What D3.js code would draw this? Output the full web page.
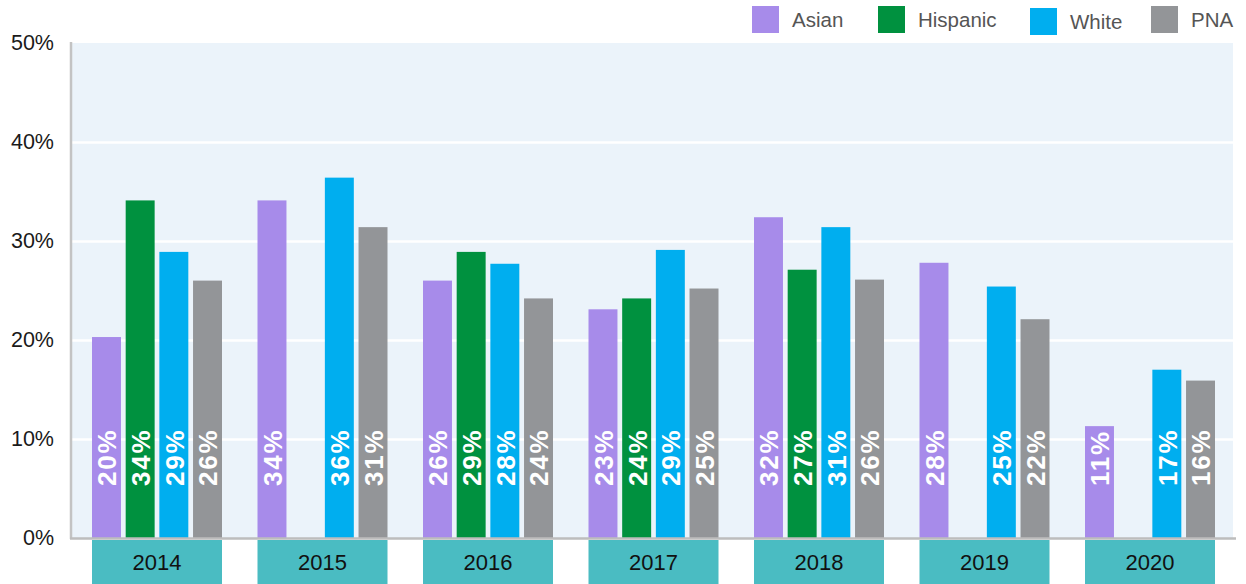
<!DOCTYPE html>
<html>
<head>
<meta charset="utf-8">
<script src="https://cdn.jsdelivr.net/npm/d3@7"></script>
<style>
  html, body { margin: 0; padding: 0; background: #ffffff; }
  svg { display: block; font-family: "Liberation Sans", Arial, Helvetica, sans-serif; }
</style>
</head>
<body>
<svg id="chart" width="1246" height="584"></svg>
<script>
// Years shown along the category axis
const years = ["2014", "2015", "2016", "2017", "2018", "2019", "2020"];

// Series names and their values (percent)
const seriesNames = ["Asian", "Hispanic", "White", "PNA"];
const asian    = [20.3, 34.1, 26.0, 23.1, 32.4, 27.8, 11.3];
const hispanic = [34.1, 0,    28.9, 24.2, 27.1, 0,    0];
const white    = [28.9, 36.4, 27.7, 29.1, 31.4, 25.4, 17.0];
const pna      = [26.0, 31.4, 24.2, 25.2, 26.1, 22.1, 15.9];

// Y axis tick values (percent)
const yTicks = [0, 10, 20, 30, 40, 50];

const colors = {
  Asian: "#a78bea",
  Hispanic: "#00913f",
  White: "#00aeef",
  PNA: "#939598"
};

const seriesValues = { Asian: asian, Hispanic: hispanic, White: white, PNA: pna };

const svg = d3.select("#chart");

// Plot frame
const plotLeft = 71, plotRight = 1233, plotTop = 43, plotBottom = 538;

const y = d3.scaleLinear().domain([0, 50]).range([plotBottom, plotTop]);

const x = d3.scaleBand()
  .domain(years)
  .range([92, 1215])
  .paddingInner(0.2145)
  .paddingOuter(0);

const xInner = d3.scaleBand()
  .domain(seriesNames)
  .range([0, x.bandwidth()])
  .paddingInner(0.14)
  .paddingOuter(0);

// Plot background
svg.append("rect")
  .attr("x", plotLeft)
  .attr("y", plotTop)
  .attr("width", plotRight - plotLeft)
  .attr("height", plotBottom - plotTop)
  .attr("fill", "#ebf3fa");

// Horizontal gridlines
const grid = svg.append("g")
  .attr("transform", `translate(${plotLeft},0)`)
  .call(d3.axisLeft(y).tickValues([10, 20, 30, 40]).tickSize(-(plotRight - plotLeft)).tickFormat(""));
grid.select(".domain").remove();
grid.selectAll(".tick line").attr("stroke", "#ffffff").attr("stroke-width", 2.5);

// Bars
const rows = years.map((yr, i) => ({
  year: yr,
  items: seriesNames.map(s => ({ series: s, value: seriesValues[s][i] }))
}));

const groups = svg.append("g").selectAll("g")
  .data(rows)
  .join("g")
  .attr("transform", d => `translate(${x(d.year)},0)`);

groups.selectAll("rect")
  .data(d => d.items.filter(v => v.value > 0))
  .join("rect")
  .attr("x", d => xInner(d.series))
  .attr("y", d => y(d.value))
  .attr("width", xInner.bandwidth())
  .attr("height", d => y(0) - y(d.value))
  .attr("fill", d => colors[d.series]);

// Value labels, rotated, reading upward from a common baseline
groups.selectAll("text.val")
  .data(d => d.items.filter(v => v.value > 0))
  .join("text")
  .attr("class", "val")
  .attr("transform", d => `translate(${xInner(d.series) + xInner.bandwidth() / 2 + 0.5},486) rotate(-90)`)
  .attr("dy", "0.36em")
  .attr("text-anchor", "start")
  .attr("fill", "#ffffff")
  .attr("font-weight", "bold")
  .attr("font-size", 26)
  .attr("letter-spacing", 1.8)
  .text(d => d3.format(".0f")(d.value) + "%");

// Axis lines
svg.append("line")
  .attr("x1", plotLeft).attr("x2", plotLeft)
  .attr("y1", plotTop - 1).attr("y2", plotBottom + 1)
  .attr("stroke", "#c3c3c3").attr("stroke-width", 2.5);
svg.append("line")
  .attr("x1", plotLeft - 1).attr("x2", 1236)
  .attr("y1", plotBottom + 0.5).attr("y2", plotBottom + 0.5)
  .attr("stroke", "#bdbdbd").attr("stroke-width", 2.5);

// Y axis labels
const yAxis = svg.append("g")
  .attr("transform", `translate(${plotLeft},0)`)
  .call(d3.axisLeft(y).tickValues(yTicks).tickSize(0).tickPadding(17).tickFormat(d => d + "%"));
yAxis.select(".domain").remove();
yAxis.selectAll("text")
  .attr("font-size", 21.5)
  .attr("fill", "#1a1a1a")
  .style("font-family", "'Liberation Sans', Arial, sans-serif");

// Category boxes under each year
svg.append("g").selectAll("rect")
  .data(years)
  .join("rect")
  .attr("x", d => x(d))
  .attr("y", plotBottom + 2)
  .attr("width", x.bandwidth())
  .attr("height", 584 - plotBottom - 2)
  .attr("fill", "#4abcc2");

const xAxis = svg.append("g")
  .attr("transform", `translate(0,${plotBottom + 2})`)
  .call(d3.axisBottom(x).tickSize(0).tickPadding(0));
xAxis.select(".domain").remove();
xAxis.selectAll("text")
  .attr("dy", "0")
  .attr("y", 30)
  .attr("font-size", 22)
  .attr("fill", "#111111")
  .style("font-family", "'Liberation Sans', Arial, sans-serif");

// Legend
const legendItems = [
  { name: "Asian", sx: 752, sy: 6, tx: 792 },
  { name: "Hispanic", sx: 878, sy: 6, tx: 918 },
  { name: "White", sx: 1030, sy: 8, tx: 1070 },
  { name: "PNA", sx: 1151, sy: 6, tx: 1191 }
];
const legend = svg.append("g").selectAll("g")
  .data(legendItems)
  .join("g");
legend.append("rect")
  .attr("x", d => d.sx)
  .attr("y", d => d.sy)
  .attr("width", 27)
  .attr("height", 27)
  .attr("fill", d => colors[d.name]);
legend.append("text")
  .attr("x", d => d.tx)
  .attr("y", d => d.sy + 21)
  .attr("font-size", 20.5)
  .attr("fill", "#555555")
  .text(d => d.name);
</script>
</body>
</html>
